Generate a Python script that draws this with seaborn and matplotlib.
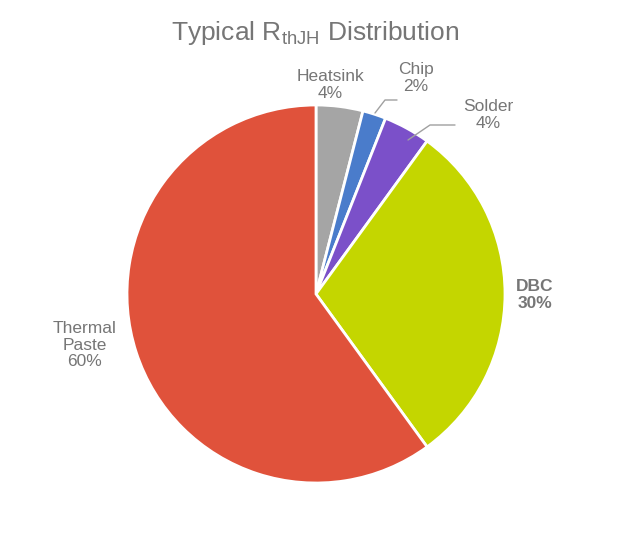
import matplotlib
matplotlib.use("Agg")
import matplotlib.pyplot as plt
import seaborn as sns

sns.set_theme(style="white")
plt.rcParams['font.family'] = ['Liberation Sans', 'DejaVu Sans']

labels = ["Heatsink", "Chip", "Solder", "DBC", "Thermal\nPaste"]
values = [4, 2, 4, 30, 60]
colors = ["#a5a5a5", "#4a7ccb", "#7b50c9", "#c4d600", "#e0523b"]

fig = plt.figure(figsize=(6.31, 5.37), dpi=100)
ax = fig.add_axes([0, 0, 1, 1])
ax.set_xlim(0, 631); ax.set_ylim(0, 537); ax.set_aspect("equal"); ax.axis("off")

cx, cy, r = 316, 537 - 294, 189
ax.pie(values, colors=colors, startangle=90, counterclock=False, center=(cx, cy), radius=r,
       wedgeprops=dict(edgecolor="white", linewidth=2), frame=True)
ax.set_xlim(0, 631); ax.set_ylim(0, 537); ax.axis("off")

gray = "#767676"
pos = [(330, 85), (416, 78), (488, 115), (535, 295), (85, 345)]
for i, (lab, v) in enumerate(zip(labels, values)):
    x, y = pos[i]
    ax.text(x, 537 - y, f"{lab}\n{v}%", ha="center", va="center", fontsize=12.5, color=gray,
            fontweight="bold" if lab == "DBC" else "normal", linespacing=1.1)
# leader lines
ax.plot([375, 385, 397], [537-113, 537-100, 537-100], color="#a0a0a0", lw=1)
ax.plot([408, 430, 455], [537-140, 537-125, 537-125], color="#a0a0a0", lw=1)

fig.text(0.5, 1 - 33/537, r"Typical R$_{\mathregular{thJH}}$ Distribution", ha="center", va="center",
         fontsize=19, color=gray)
fig.savefig("out.png", dpi=100)
